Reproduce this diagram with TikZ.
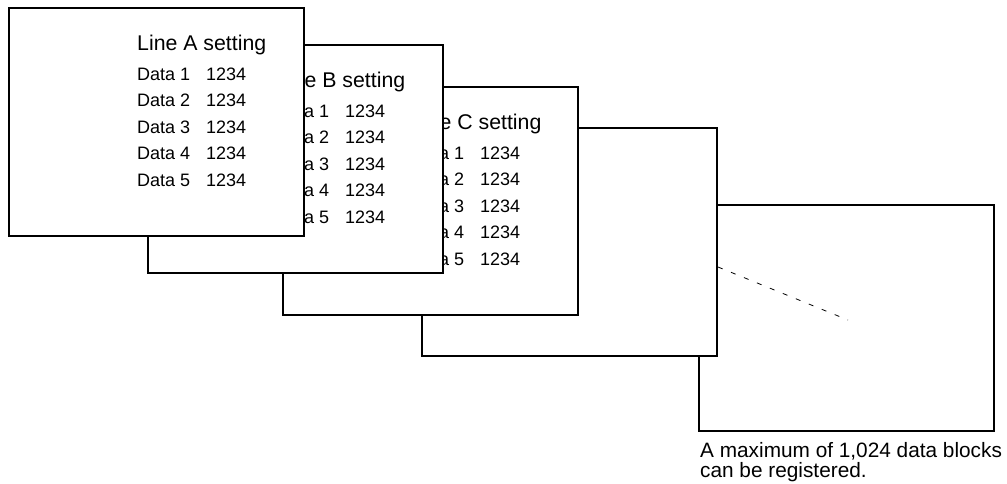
\documentclass[tikz,border=0pt]{standalone}
\usepackage{fontspec}
\setmainfont{Liberation Sans}
\usetikzlibrary{calc}

\tikzset{
    sheet/.style={draw, line width=2pt, fill=white, minimum width=295pt,
        minimum height=228pt, anchor=north west, inner sep=0pt, outer sep=0pt},
    title/.style={anchor=base west, inner sep=0pt, font=\fontsize{21.3}{23}\selectfont},
    entry/.style={anchor=base west, inner sep=0pt, font=\fontsize{18}{19}\selectfont},
}

\begin{document}
\begin{tikzpicture}[x=1pt, y=-1pt]
    \useasboundingbox (0,0) rectangle (1007,483);

    % the sheets at the back, left empty
    \node[sheet, minimum height=226pt] (sheetE) at (699,205) {};
    \node[sheet] (sheetD) at (422,128) {};

    % one sheet of settings per line
    \foreach \line/\x/\y in {C/283/87, B/148/45, A/9/8} {
        \node[sheet] (sheet\line) at (\x,\y) {};
        \node[title] (title\line) at ($(sheet\line.north west)+(128,42)$) {Line \line\ setting};
        \foreach \i in {1,...,5} {
            \node[entry] (name\line\i) at ($(sheet\line.north west)+(128,72+26.5*\i-26.5)$) {Data \i};
            \node[entry] (value\line\i) at ($(sheet\line.north west)+(197,72+26.5*\i-26.5)$) {1234};
        }
    }

    % more sheets follow
    \coordinate (moreL) at (718,267);
    \coordinate (moreR) at (848,320);
    \draw[dashed, line width=0.8pt, dash pattern=on 5pt off 9pt] (moreL) -- (moreR);

    \node[anchor=base west, inner sep=0pt, align=left,
        font=\fontsize{20.8}{20}\selectfont] (note) at (700,477)
        {A maximum of 1,024 data blocks\\can be registered.};
\end{tikzpicture}
\end{document}
